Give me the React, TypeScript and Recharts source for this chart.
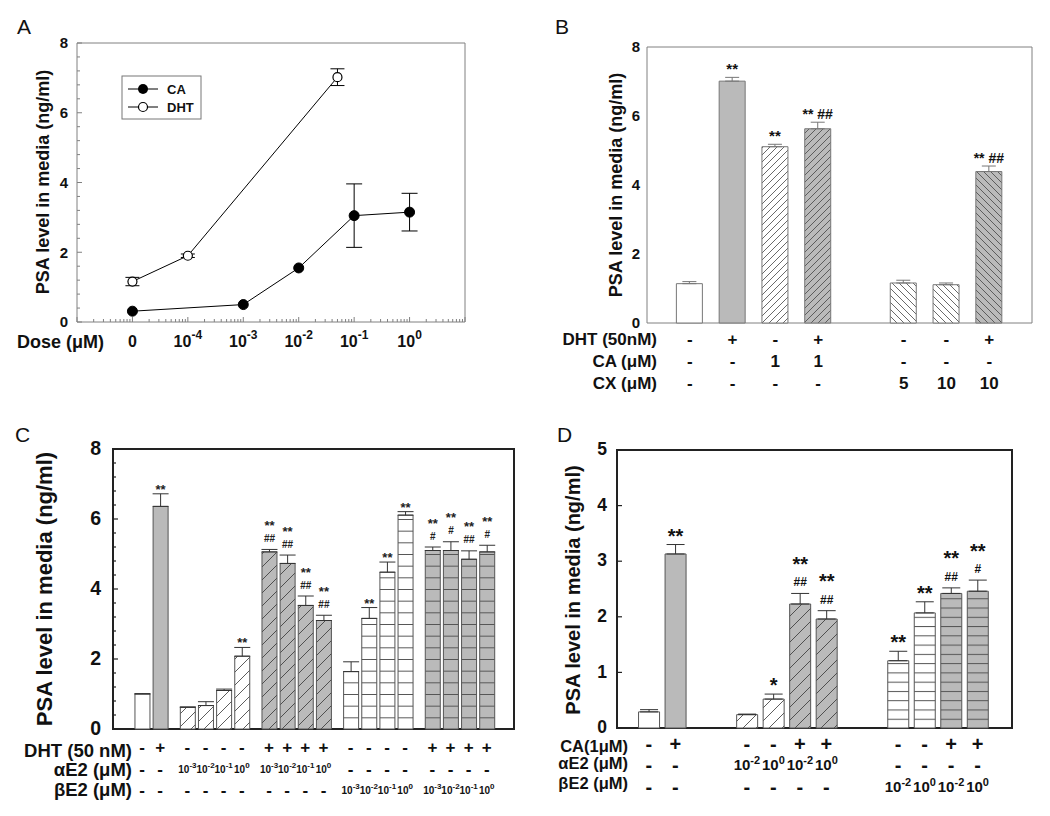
import React from 'react';
import { LineChart, Line, BarChart, Bar, XAxis, YAxis, ErrorBar, ReferenceArea, LabelList, Cell } from 'recharts';

const FONT = '"Liberation Sans", Arial, Helvetica, sans-serif';
const GRAY = '#bababa';

// ---------- Panel A: dose response ----------
const caDose = [0, 0.001, 0.01, 0.1, 1];
const caPsa = [0.31, 0.5, 1.55, 3.05, 3.15];
const caErr = [0, 0, 0, 0.91, 0.54];
const dhtDose = [0, 0.0001, 0.05];
const dhtPsa = [1.16, 1.9, 7.02];
const dhtErr = [0.12, 0.05, 0.24];
const doseLabels = ['0', '10^-4', '10^-3', '10^-2', '10^-1', '10^0'];
const yLabelsA = [0, 2, 4, 6, 8];

// ---------- Panel B ----------
const bDht = ['-', '+', '-', '+', '-', '-', '+'];
const bCa = ['-', '-', '1', '1', '-', '-', '-'];
const bCx = ['-', '-', '-', '-', '5', '10', '10'];
const bPsa = [1.14, 7.01, 5.11, 5.63, 1.16, 1.11, 4.39];
const bErr = [0.06, 0.11, 0.07, 0.19, 0.08, 0.05, 0.16];
const bStars = ['', '**', '**', '** ##', '', '', '** ##'];
const bKinds = ['white', 'gray', 'fwdWhite', 'fwdGray', 'backWhite', 'backWhite', 'backGray'];

// ---------- Panel C ----------
const cDht = ['-', '+', '-', '-', '-', '-', '+', '+', '+', '+', '-', '-', '-', '-', '+', '+', '+', '+'];
const cAlpha = ['-', '-', '10^-3', '10^-2', '10^-1', '10^0', '10^-3', '10^-2', '10^-1', '10^0', '-', '-', '-', '-', '-', '-', '-', '-'];
const cBeta = ['-', '-', '-', '-', '-', '-', '-', '-', '-', '-', '10^-3', '10^-2', '10^-1', '10^0', '10^-3', '10^-2', '10^-1', '10^0'];
const cPsa = [1.0, 6.36, 0.62, 0.67, 1.1, 2.08, 5.06, 4.73, 3.53, 3.1, 1.64, 3.16, 4.48, 6.11, 5.1, 5.1, 4.85, 5.06];
const cErr = [0.01, 0.36, 0.01, 0.11, 0.04, 0.25, 0.07, 0.24, 0.27, 0.15, 0.28, 0.31, 0.29, 0.1, 0.1, 0.25, 0.24, 0.19];
const cStars = ['', '**', '', '', '', '**', '**|##', '**|##', '**|##', '**|##', '', '**', '**', '**', '**|#', '**|#', '**|##', '**|#'];
const cKinds = ['white', 'gray', 'fwdWhite', 'fwdWhite', 'fwdWhite', 'fwdWhite', 'fwdGray', 'fwdGray', 'fwdGray', 'fwdGray',
  'horWhite', 'horWhite', 'horWhite', 'horWhite', 'horGray', 'horGray', 'horGray', 'horGray'];

// ---------- Panel D ----------
const dCa = ['-', '+', '-', '-', '+', '+', '-', '-', '+', '+'];
const dAlpha = ['-', '-', '10^-2', '10^0', '10^-2', '10^0', '-', '-', '-', '-'];
const dBeta = ['-', '-', '-', '-', '-', '-', '10^-2', '10^0', '10^-2', '10^0'];
const dPsa = [0.29, 3.13, 0.24, 0.52, 2.23, 1.96, 1.21, 2.07, 2.42, 2.46];
const dErr = [0.04, 0.17, 0.01, 0.09, 0.19, 0.15, 0.17, 0.2, 0.1, 0.2];
const dStars = ['', '**', '', '*', '**|##', '**|##', '**', '**', '**|##', '**|#'];
const dKinds = ['white', 'gray', 'fwdWhite', 'fwdWhite', 'fwdGray', 'fwdGray', 'horWhite', 'horWhite', 'horGray', 'horGray'];

const doseToPos = (d: number) => (d === 0 ? 0 : Math.log10(d) + 5);
const near = (a: number, b: number) => Math.abs(a - b) < 1e-6;

// bar slots: groups of bars separated by an extra gap
function groupPositions(groups: number[], extra: number) {
  const out: number[] = [];
  let p = 0;
  groups.forEach((n, g) => {
    if (g > 0) p += extra;
    for (let k = 0; k < n; k++) { out.push(p); p += 1; }
  });
  return out;
}

function stepTicks(max: number, step: number) {
  const out: number[] = [];
  for (let v = 0; v <= max + 1e-9; v += step) out.push(+v.toFixed(3));
  return out;
}

function SupText({ x, y, text, size, supSize, rise, anchor = 'middle' }: any) {
  const m = /^(.*)\^(.*)$/.exec(text);
  if (!m) {
    return <text x={x} y={y} textAnchor={anchor} fontFamily={FONT} fontWeight="bold" fontSize={size} fill="#111">{text}</text>;
  }
  return (
    <text x={x} y={y} textAnchor={anchor} fontFamily={FONT} fontWeight="bold" fontSize={size} fill="#111">
      <tspan>{m[1]}</tspan>
      <tspan dy={-rise} fontSize={supSize}>{m[2]}</tspan>
    </text>
  );
}

// ---------- Panel A ----------
const A = { l: 77, r: 465, t: 43, b: 322 };
const aTicksX: number[] = [];
for (let k = -1; k <= 5; k++) {
  aTicksX.push(k);
  for (let m = 2; m <= 9; m++) aTicksX.push(k + Math.log10(m));
}
aTicksX.push(6);
const aTicksY = stepTicks(8, 0.4);
const AXIS_A = '#808080';

function PanelA() {
  const caData = caDose.map((d, i) => ({ x: doseToPos(d), y: caPsa[i], e: caErr[i] }));
  const dhtData = dhtDose.map((d, i) => ({ x: doseToPos(d), y: dhtPsa[i], e: dhtErr[i] }));

  const doseTick = (p: any) => {
    const v = p.payload.value;
    const major = near(v, Math.round(v));
    const idx = Math.round(v);
    const label = major && idx >= 0 && idx < doseLabels.length ? doseLabels[idx] : null;
    return (
      <g>
        <line x1={p.x} x2={p.x} y1={A.b} y2={A.b - (major ? 5 : 3)} stroke={AXIS_A} />
        {label && <SupText x={p.x} y={347} text={label} size={16} supSize={12} rise={8} />}
      </g>
    );
  };
  const yTick = (side: 'l' | 'r') => (p: any) => {
    const v = p.payload.value;
    const lab = yLabelsA.some((l) => near(l, v));
    const ax = side === 'l' ? A.l : A.r;
    const dir = side === 'l' ? 1 : -1;
    return (
      <g>
        <line x1={ax} x2={ax + dir * (lab ? 5 : 3)} y1={p.y} y2={p.y} stroke={AXIS_A} />
        {lab && (
          <text x={side === 'l' ? 68 : 475} y={p.y} dy="0.36em" textAnchor={side === 'l' ? 'end' : 'start'}
            fontFamily={FONT} fontWeight="bold" fontSize={15} fill="#111">{v}</text>
        )}
      </g>
    );
  };

  return (
    <div style={{ position: 'absolute', left: 0, top: 0 }}>
      <LineChart width={525} height={380} margin={{ top: A.t, right: 20, bottom: 28, left: 37 }}>
        <XAxis type="number" dataKey="x" domain={[-1, 6]} ticks={aTicksX} interval={0} tick={doseTick}
          tickLine={false} axisLine={false} height={30} allowDataOverflow />
        <YAxis yAxisId="l" type="number" domain={[0, 8]} ticks={aTicksY} interval={0} tick={yTick('l')}
          tickLine={false} axisLine={false} width={40} />
        <YAxis yAxisId="r" orientation="right" type="number" domain={[0, 8]} ticks={aTicksY} interval={0}
          tick={yTick('r')} tickLine={false} axisLine={false} width={40} />
        <ReferenceArea yAxisId="l" x1={-1} x2={6} y1={0} y2={8} fill="none" stroke={AXIS_A} strokeWidth={1} ifOverflow="visible" />
        <Line yAxisId="l" data={dhtData} dataKey="y" type="linear" stroke="#000" strokeWidth={1}
          dot={{ r: 4.5, fill: '#fff', stroke: '#000', strokeWidth: 1.2 }} activeDot={false} isAnimationActive={false}>
          <ErrorBar dataKey="e" width={7} stroke="#000" strokeWidth={1} direction="y" />
        </Line>
        <Line yAxisId="l" data={caData} dataKey="y" type="linear" stroke="#000" strokeWidth={1}
          dot={{ r: 5, fill: '#000', stroke: '#000', strokeWidth: 1 }} activeDot={false} isAnimationActive={false}>
          <ErrorBar dataKey="e" width={8} stroke="#000" strokeWidth={1} direction="y" />
        </Line>
      </LineChart>
    </div>
  );
}

// ---------- Bar panels ----------
interface BarCfg {
  id: string;
  left: number; top: number; width: number; height: number;
  plot: { l: number; r: number; t: number; b: number };
  yMax: number; yTicks: number[]; yLabels: number[]; yFont: number; yLabelX: number; yDy: string; tickLen: [number, number];
  domain: [number, number]; positions: number[]; barSize: number;
  psa: number[]; err: number[]; kinds: string[]; stars: string[];
  rows: string[][]; rowY: number[]; rowFont: number; expFont: number; supFont: number; rise: number;
  axisColor: string; axisWidth: number; barStroke: string; errColor: string; errCap: number;
  hatch: number; hor: number; hatchColor: string; horColor: string;
  star: { size: number; hash: number; single: number; twoStar: number; twoHash: number; color: string };
}

function Patterns({ c }: { c: BarCfg }) {
  const h = c.hatch;
  const fwd = `M0,${h} L${h},0 M-1,1 L1,-1 M${h - 1},${h + 1} L${h + 1},${h - 1}`;
  const back = `M0,0 L${h},${h} M-1,${h - 1} L1,${h + 1} M${h - 1},-1 L${h + 1},1`;
  const mk = (name: string, bg: string, d: string) => (
    <pattern id={`${c.id}-${name}`} patternUnits="userSpaceOnUse" width={h} height={h} key={name}>
      <rect width={h} height={h} fill={bg} />
      <path d={d} stroke={c.hatchColor} strokeWidth={0.8} />
    </pattern>
  );
  const hor = (name: string, bg: string) => (
    <pattern id={`${c.id}-${name}`} patternUnits="userSpaceOnUse" x={0} y={c.plot.b} width={8} height={c.hor} key={name}>
      <rect width={8} height={c.hor} fill={bg} />
      <line x1={0} x2={8} y1={0.5} y2={0.5} stroke={c.horColor} strokeWidth={1} />
    </pattern>
  );
  return (
    <defs>
      {mk('fwdWhite', '#fff', fwd)}
      {mk('fwdGray', GRAY, fwd)}
      {mk('backWhite', '#fff', back)}
      {mk('backGray', GRAY, back)}
      {hor('horWhite', '#fff')}
      {hor('horGray', GRAY)}
    </defs>
  );
}

const fillOf = (id: string, kind: string) =>
  kind === 'white' ? '#fff' : kind === 'gray' ? GRAY : `url(#${id}-${kind})`;

function BarPanel({ c }: { c: BarCfg }) {
  const YW = 40;
  const XH = 70;
  const pxPerUnit = (c.plot.b - c.plot.t) / c.yMax;
  const data = c.psa.map((v, i) => ({ pos: c.positions[i], psa: v, eb: [0, c.err[i]], i }));

  const yTick = (p: any) => {
    const v = p.payload.value;
    const lab = c.yLabels.some((l) => near(l, v));
    const len = lab ? c.tickLen[0] : c.tickLen[1];
    return (
      <g>
        {len > 0 && <line x1={c.plot.l} x2={c.plot.l + len} y1={p.y} y2={p.y} stroke={c.axisColor} strokeWidth={1.2} />}
        {lab && (
          <text x={c.yLabelX} y={p.y} dy={c.yDy} textAnchor="end" fontFamily={FONT} fontWeight="bold"
            fontSize={c.yFont} fill="#111">{v}</text>
        )}
      </g>
    );
  };

  const condTick = (p: any) => {
    const i = c.positions.findIndex((q) => near(q, p.payload.value));
    if (i < 0) return <g />;
    return (
      <g>
        {c.rows.map((row, r) => {
          const t = row[i];
          const y = c.rowY[r];
          if (t.includes('^')) {
            return <SupText key={r} x={p.x} y={y + c.expFont * 0.36} text={t} size={c.expFont} supSize={c.supFont} rise={c.rise} />;
          }
          return (
            <text key={r} x={p.x} y={y} dy="0.36em" textAnchor="middle" fontFamily={FONT} fontWeight="bold"
              fontSize={c.rowFont} fill="#111">{t}</text>
          );
        })}
      </g>
    );
  };

  // significance marks above the error bar
  const starLabel = (p: any) => {
    const i = p.value as number;
    const s = c.stars[i];
    if (!s) return null;
    const cx = p.x + p.width / 2;
    const top = p.y - c.err[i] * pxPerUnit;
    const parts = s.split('|');
    const common = { textAnchor: 'middle' as const, fontFamily: FONT, fontWeight: 'bold' as const, fill: c.star.color };
    if (parts.length === 1) {
      const isHashLine = parts[0].includes('#');
      return <text x={cx} y={top - c.star.single} fontSize={isHashLine ? c.star.hash : c.star.size} {...common}>{parts[0]}</text>;
    }
    return (
      <g>
        <text x={cx} y={top - c.star.twoStar} fontSize={c.star.size} {...common}>{parts[0]}</text>
        <text x={cx} y={top - c.star.twoHash} fontSize={c.star.hash} {...common}>{parts[1]}</text>
      </g>
    );
  };

  return (
    <div style={{ position: 'absolute', left: c.left, top: c.top }}>
      <BarChart width={c.width} height={c.height} data={data}
        margin={{ top: c.plot.t, right: c.width - c.plot.r, left: c.plot.l - YW, bottom: c.height - c.plot.b - XH }}>
        <Patterns c={c} />
        <XAxis type="number" dataKey="pos" domain={c.domain} ticks={c.positions} interval={0} tick={condTick}
          tickLine={false} axisLine={false} height={XH} allowDataOverflow />
        <YAxis type="number" domain={[0, c.yMax]} ticks={c.yTicks} interval={0} tick={yTick}
          tickLine={false} axisLine={false} width={YW} />
        <Bar dataKey="psa" barSize={c.barSize} isAnimationActive={false} stroke={c.barStroke} strokeWidth={1}>
          {data.map((d, i) => <Cell key={i} fill={fillOf(c.id, c.kinds[i])} />)}
          <ErrorBar dataKey="eb" width={c.errCap} stroke={c.errColor} strokeWidth={1} direction="y" />
          <LabelList dataKey="i" content={starLabel} />
        </Bar>
        <ReferenceArea x1={c.domain[0]} x2={c.domain[1]} y1={0} y2={c.yMax} fill="none"
          stroke={c.axisColor} strokeWidth={c.axisWidth} ifOverflow="visible" />
      </BarChart>
    </div>
  );
}

const cfgB: BarCfg = {
  id: 'pb', left: 525, top: 0, width: 525, height: 400,
  plot: { l: 122, r: 507, t: 47, b: 323 },
  yMax: 8, yTicks: [0, 2, 4, 6, 8], yLabels: [0, 2, 4, 6, 8], yFont: 15, yLabelX: 115, yDy: '0.36em', tickLen: [0, 0],
  domain: [-1, 8], positions: groupPositions([4, 3], 1), barSize: 26,
  psa: bPsa, err: bErr, kinds: bKinds, stars: bStars,
  rows: [bDht, bCa, bCx], rowY: [339, 361, 383], rowFont: 17, expFont: 15, supFont: 11, rise: 6,
  axisColor: '#808080', axisWidth: 1, barStroke: '#777', errColor: '#777', errCap: 7,
  hatch: 7, hor: 10, hatchColor: '#444', horColor: '#555',
  star: { size: 15, hash: 14, single: 3, twoStar: 14, twoHash: 3, color: '#111' },
};

const cfgC: BarCfg = {
  id: 'pc', left: 0, top: 400, width: 525, height: 416,
  plot: { l: 113, r: 514, t: 49, b: 329 },
  yMax: 8, yTicks: stepTicks(8, 0.4), yLabels: [0, 2, 4, 6, 8], yFont: 19.5, yLabelX: 101, yDy: '0.32em', tickLen: [5, 3],
  domain: [-1.6, 20.5], positions: groupPositions([2, 4, 4, 4, 4], 0.5), barSize: 15,
  psa: cPsa, err: cErr, kinds: cKinds, stars: cStars,
  rows: [cDht, cAlpha, cBeta], rowY: [347, 369, 390], rowFont: 17, expFont: 10, supFont: 8, rise: 5,
  axisColor: '#222', axisWidth: 2, barStroke: '#555', errColor: '#333', errCap: 8,
  hatch: 13, hor: 35 / 3, hatchColor: '#333', horColor: '#555',
  star: { size: 13, hash: 10, single: 0, twoStar: 19.5, twoHash: 7.5, color: '#222' },
};

const cfgD: BarCfg = {
  id: 'pd', left: 525, top: 400, width: 525, height: 416,
  plot: { l: 92, r: 487, t: 50, b: 328 },
  yMax: 5, yTicks: [0, 1, 2, 3, 4, 5], yLabels: [0, 1, 2, 3, 4, 5], yFont: 17.5, yLabelX: 82, yDy: '0.3em', tickLen: [5, 0],
  domain: [-1.2, 13.7], positions: groupPositions([2, 4, 4], 1.7), barSize: 21,
  psa: dPsa, err: dErr, kinds: dKinds, stars: dStars,
  rows: [dCa, dAlpha, dBeta], rowY: [344, 365, 387], rowFont: 20, expFont: 15, supFont: 11, rise: 6,
  axisColor: '#222', axisWidth: 2, barStroke: '#555', errColor: '#333', errCap: 9,
  hatch: 13, hor: 278 / 30, hatchColor: '#333', horColor: '#555',
  star: { size: 20, hash: 12, single: 2, twoStar: 22.5, twoHash: 7, color: '#111' },
};

// ---------- Overlay: panel letters, titles, row labels, legend ----------
function Overlay() {
  const title = (cx: number, cy: number, size: number) => (
    <text x={cx} y={cy} dy="0.36em" transform={`rotate(-90 ${cx} ${cy})`} textAnchor="middle"
      fontFamily={FONT} fontWeight="bold" fontSize={size} fill="#111">PSA level in media (ng/ml)</text>
  );
  const letter = (x: number, y: number, t: string) => (
    <text x={x} y={y} fontFamily={FONT} fontSize={21} fill="#111">{t}</text>
  );
  const rowLab = (x: number, y: number, t: string, size: number) => (
    <text x={x} y={y} textAnchor="end" fontFamily={FONT} fontWeight="bold" fontSize={size} fill="#111">{t}</text>
  );
  return (
    <svg width={1050} height={816} style={{ position: 'absolute', left: 0, top: 0, pointerEvents: 'none' }}>
      {letter(17, 34, 'A')}
      {letter(555, 34, 'B')}
      {letter(15, 442, 'C')}
      {letter(557, 442, 'D')}

      {title(43, 182, 18)}
      {title(616, 185, 18)}
      {title(44, 589, 22)}
      {title(573, 590, 20)}

      <text x={17} y={348} fontFamily={FONT} fontWeight="bold" fontSize={18} fill="#111">Dose (μM)</text>

      <rect x={122} y={76} width={79} height={43} fill="#fff" stroke="#777" />
      <line x1={128} x2={158} y1={89} y2={89} stroke="#000" />
      <circle cx={143} cy={89} r={5} fill="#000" />
      <text x={167} y={94} fontFamily={FONT} fontWeight="bold" fontSize={13} fill="#111">CA</text>
      <line x1={128} x2={158} y1={107} y2={107} stroke="#000" />
      <circle cx={143} cy={107} r={4.5} fill="#fff" stroke="#000" strokeWidth={1.2} />
      <text x={167} y={112} fontFamily={FONT} fontWeight="bold" fontSize={13} fill="#111">DHT</text>

      {rowLab(657, 345, 'DHT (50nM)', 17)}
      {rowLab(657, 367, 'CA (μM)', 17)}
      {rowLab(657, 389, 'CX (μM)', 17)}

      {rowLab(132, 756.5, 'DHT (50 nM)', 18.5)}
      {rowLab(132, 776, 'αE2 (μM)', 18.5)}
      {rowLab(132, 796, 'βE2 (μM)', 18.5)}

      {rowLab(628, 752, 'CA(1μM)', 16.5)}
      {rowLab(628, 769, 'αE2 (μM)', 16.5)}
      {rowLab(628, 789, 'βE2 (μM)', 16.5)}
    </svg>
  );
}

export default function App() {
  return (
    <div style={{ position: 'absolute', left: 0, top: 0, width: 1050, height: 816, background: '#fff', fontFamily: FONT }}>
      <PanelA />
      <BarPanel c={cfgB} />
      <BarPanel c={cfgC} />
      <BarPanel c={cfgD} />
      <Overlay />
    </div>
  );
}
